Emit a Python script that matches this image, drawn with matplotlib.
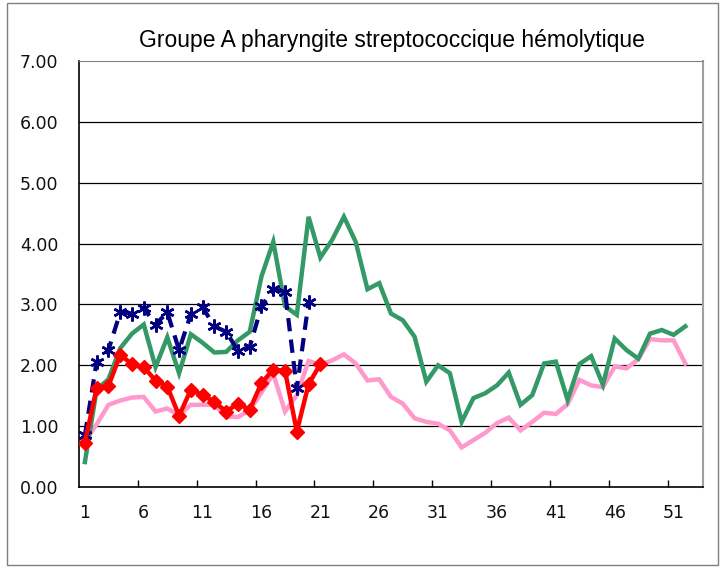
import matplotlib
matplotlib.use("Agg")
import matplotlib.pyplot as plt
from matplotlib.patches import Rectangle

title = "Groupe A pharyngite streptococcique hémolytique"
n_weeks = 53
x_tick_labels = [1, 6, 11, 16, 21, 26, 31, 36, 41, 46, 51]
y_ticks = [0, 1, 2, 3, 4, 5, 6, 7]

green = [0.41, 1.60, 1.77, 2.28, 2.52, 2.67, 1.97, 2.46, 1.87, 2.51, 2.37, 2.21, 2.22,
         2.41, 2.55, 3.46, 4.03, 2.97, 2.83, 4.44, 3.77, 4.06, 4.44, 4.03, 3.25, 3.35,
         2.85, 2.74, 2.47, 1.73, 2.00, 1.87, 1.07, 1.46, 1.54, 1.67, 1.88, 1.35, 1.51,
         2.03, 2.06, 1.43, 2.02, 2.15, 1.68, 2.44, 2.25, 2.11, 2.52, 2.58, 2.50, 2.64]
pink = [0.75, 1.03, 1.35, 1.42, 1.47, 1.48, 1.24, 1.29, 1.18, 1.35, 1.35, 1.35, 1.16,
        1.15, 1.26, 1.55, 1.86, 1.24, 1.51, 2.07, 2.01, 2.08, 2.18, 2.03, 1.75, 1.77,
        1.48, 1.37, 1.13, 1.07, 1.04, 0.93, 0.65, 0.77, 0.89, 1.05, 1.14, 0.93, 1.07,
        1.22, 1.20, 1.36, 1.76, 1.67, 1.64, 1.98, 1.95, 2.10, 2.43, 2.41, 2.41, 2.03]
red = [0.73, 1.63, 1.66, 2.17, 2.02, 1.97, 1.75, 1.65, 1.17, 1.60, 1.51, 1.40, 1.24,
       1.37, 1.27, 1.71, 1.93, 1.91, 0.91, 1.69, 2.02]
blue = [0.85, 2.06, 2.25, 2.87, 2.85, 2.94, 2.67, 2.87, 2.25, 2.84, 2.95, 2.64, 2.55,
        2.24, 2.30, 2.97, 3.25, 3.21, 1.62, 3.04]

W, H = 721, 569
fig = plt.figure(figsize=(W / 100, H / 100), dpi=100)
fig.patch.set_facecolor("white")
fig.patches.append(Rectangle((7 / W, 4 / H), (718 - 7) / W, (566 - 4) / H,
                             transform=fig.transFigure, fill=False,
                             edgecolor="#7f7f7f", linewidth=1.0))

ax = fig.add_axes([79 / W, (H - 487) / H, (703 - 79) / W, (487 - 61) / H])

def xs(vals):
    return list(range(1, len(vals) + 1))

ax.plot(xs(pink), pink, color="#FF99CC", lw=3.2, solid_joinstyle="miter", zorder=3)
ax.plot(xs(green), green, color="#339966", lw=3.2, solid_joinstyle="miter", zorder=4)
ax.plot(xs(blue), blue, color="#000080", lw=3.0, dashes=(3.2, 2.0),
        marker=(6, 2, 0), markersize=10, markeredgewidth=1.8,
        markeredgecolor="#000080", zorder=5)
ax.plot(xs(red), red, color="#FF0000", lw=3.2, marker="D", markersize=7,
        markerfacecolor="#FF0000", markeredgecolor="#FF0000", zorder=6)

ax.set_xlim(0.5, n_weeks + 0.5)
ax.set_ylim(0, 7)
ax.set_yticks(y_ticks)
ax.set_yticklabels([f"{v:.2f}" for v in y_ticks])
ax.set_xticks(x_tick_labels)
ax.set_xticklabels([str(v) for v in x_tick_labels])
ax.set_xticks([k + 0.5 for k in range(5, n_weeks, 5)], minor=True)

for v in y_ticks[1:-1]:
    ax.axhline(v, color="black", lw=0.9, zorder=1)

ax.tick_params(axis="y", length=0, pad=15, labelsize=12.5)
ax.tick_params(axis="x", which="major", length=0, pad=12, labelsize=12.5)
ax.tick_params(axis="x", which="minor", direction="in", length=5, width=1, color="black")

for lab in ax.get_xticklabels() + ax.get_yticklabels():
    lab.set_fontfamily("DejaVu Sans")
    lab.set_color("#111111")

ax.spines["left"].set_color("black")
ax.spines["bottom"].set_color("black")
ax.spines["left"].set_linewidth(1.2)
ax.spines["bottom"].set_linewidth(1.2)
ax.spines["top"].set_color("#808080")
ax.spines["right"].set_color("#a0a0a0")
ax.spines["right"].set_linewidth(1.5)

fig.text(392 / W, (H - 40) / H, title, ha="center", va="center",
         fontsize=16.5, fontfamily="Liberation Sans")

fig.savefig("out.png", dpi=100)
